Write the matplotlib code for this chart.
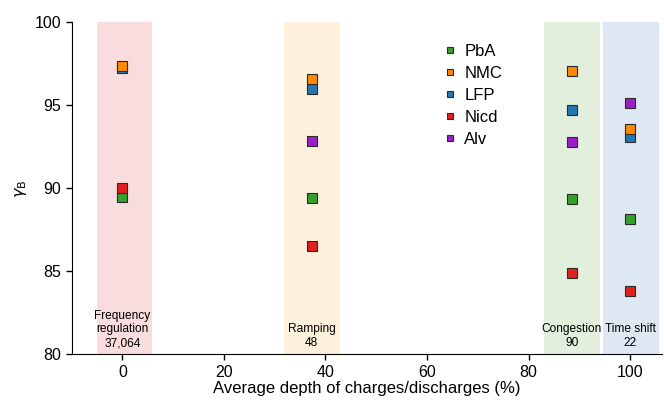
import numpy as np
import matplotlib.pyplot as plt

plt.rcParams['font.family'] = ['Liberation Sans', 'DejaVu Sans']

# application groups: x position (avg depth of charges %), band colour and label
apps = ["Frequency\nregulation\n37,064", "Ramping\n48", "Congestion\n90", "Time shift\n22"]
app_x = [0.0, 37.3, 88.5, 100.0]
band_lo = [-5.1, 31.8, 83.0, 94.7]
band_hi = [5.8, 42.8, 94.1, 105.7]
band_col = ["#f9dcdd", "#fdf1dc", "#e1efdc", "#dde8f2"]

# gamma_B per chemistry at each application
techs = ["PbA", "NMC", "LFP", "Nicd", "Alv"]
colors = ["#35a02c", "#ff8a00", "#2378b0", "#e0201f", "#9a1fc8"]
pba = [89.5, 89.4, 89.35, 88.15]
nmc = [97.4, 96.6, 97.05, 93.55]
lfp = [97.25, 96.0, 94.75, 93.1]
nicd = [90.05, 86.5, 84.9, 83.8]
alv = [np.nan, 92.85, 92.8, 95.15]

fig = plt.figure(figsize=(6.64, 4.09), dpi=100)
ax = fig.add_axes([0.108, 0.134, 0.889, 0.811])

for lo, hi, c in zip(band_lo, band_hi, band_col):
    ax.axvspan(lo, hi, color=c, lw=0, zorder=0)
for x, t in zip(app_x, apps):
    ax.text(x, 80.3, t, ha="center", va="bottom", fontsize=8.6, linespacing=1.2)

# draw order so the overlaps look like the reference
order = [("LFP", lfp, colors[2]), ("NMC", nmc, colors[1]), ("PbA", pba, colors[0]),
         ("Nicd", nicd, colors[3]), ("Alv", alv, colors[4])]
handles = {}
for name, vals, c in order:
    h, = ax.plot(app_x, vals, ls="none", marker="s", ms=7, mfc=c, mec="#2a2a2a", mew=0.8,
                 label=name, zorder=3)
    handles[name] = h

ax.legend([handles[t] for t in techs], techs, loc="upper left", bbox_to_anchor=(0.61, 0.965),
          frameon=False, fontsize=12, handletextpad=0.35, labelspacing=0.42, markerscale=0.65,
          handlelength=1.0, borderaxespad=0.2)

ax.set_xlim(-10, 106.3)
ax.set_ylim(80, 100)
ax.set_xticks([0, 20, 40, 60, 80, 100])
ax.set_yticks([80, 85, 90, 95, 100])
ax.tick_params(labelsize=11.5, length=4, width=1)
ax.spines["top"].set_visible(False)
ax.spines["right"].set_visible(False)
ax.set_xlabel("Average depth of charges/discharges (%)", fontsize=12, labelpad=1)
ax.set_ylabel(r"$\gamma_\mathrm{B}$", fontsize=11.5, labelpad=4)

fig.savefig("out.png", dpi=100)
